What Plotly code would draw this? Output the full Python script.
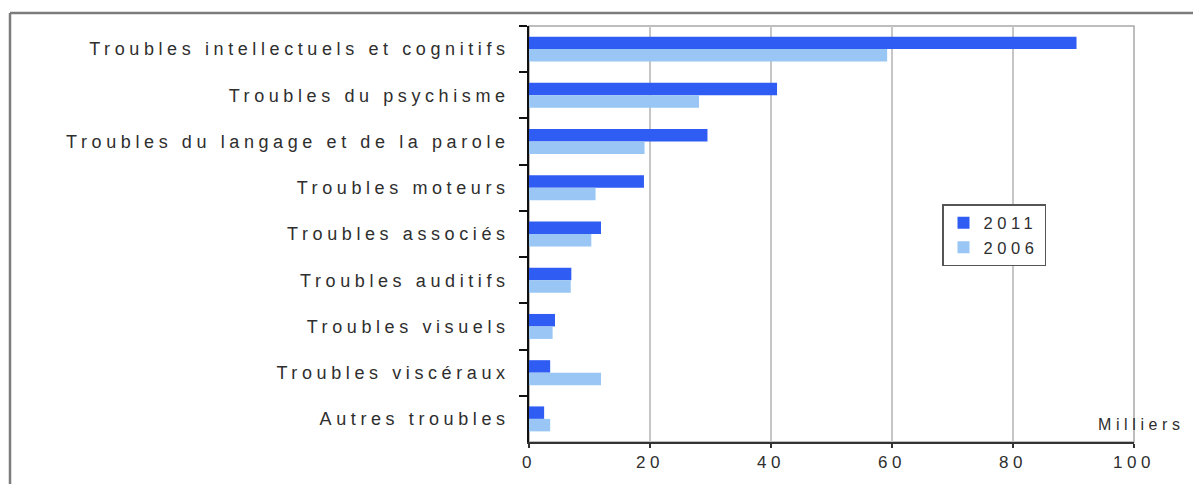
import plotly.graph_objects as go

# Categories, listed top to bottom
categories = [
    "Troubles intellectuels et cognitifs",
    "Troubles du psychisme",
    "Troubles du langage et de la parole",
    "Troubles moteurs",
    "Troubles associés",
    "Troubles auditifs",
    "Troubles visuels",
    "Troubles viscéraux",
    "Autres troubles",
]

# Values in thousands
values_2011 = [90.5, 41.0, 29.5, 19.0, 11.9, 7.0, 4.3, 3.5, 2.5]
values_2006 = [59.2, 28.1, 19.1, 11.0, 10.3, 6.9, 3.9, 11.9, 3.5]

x_ticks = [0, 20, 40, 60, 80, 100]

COLOR_2011 = "#2F5CF2"
COLOR_2006 = "#99C6F4"
TEXT = "#2E2E2E"
FONT = "Liberation Sans, Arial, sans-serif"

fig = go.Figure()
fig.add_trace(go.Bar(name="2011", y=categories, x=values_2011, orientation="h",
                     marker=dict(color=COLOR_2011, line=dict(width=0))))
fig.add_trace(go.Bar(name="2006", y=categories, x=values_2006, orientation="h",
                     marker=dict(color=COLOR_2006, line=dict(width=0))))

# plot area in pixels: x 529..1134, y 26..442
W, H = 1193, 484
L, R, T, B = 529, 1134, 26, 442


def px(x):
    return (x - L) / (R - L)


def py(y):
    return (B - y) / (B - T)


fig.update_layout(
    width=W, height=H,
    margin=dict(l=L, r=W - R, t=T, b=H - B, autoexpand=False),
    paper_bgcolor="white", plot_bgcolor="white",
    barmode="group", bargap=0.46, bargroupgap=0.0,
    font=dict(family=FONT, size=18, color=TEXT),
    showlegend=True,
    legend=dict(
        x=px(942), y=py(204), xanchor="left", yanchor="top",
        bgcolor="white", bordercolor="#555555", borderwidth=1.5,
        font=dict(size=16.5, color=TEXT), traceorder="normal",
        itemwidth=30,
    ),
    xaxis=dict(
        range=[0, 100], tickvals=x_ticks, ticktext=[str(v) for v in x_ticks],
        showgrid=True, gridcolor="#C6C6C6", gridwidth=1.5,
        zeroline=False, showline=True, linecolor="#333333", linewidth=1.5,
        ticks="outside", ticklen=4, tickcolor="#333333", tickwidth=1.5,
        tickfont=dict(size=17, color=TEXT),
    ),
    yaxis=dict(
        type="category", categoryorder="array", categoryarray=categories,
        autorange="reversed",
        showgrid=False, zeroline=False,
        showline=True, linecolor="#111111", linewidth=1.5,
        ticks="outside", tickson="boundaries", ticklen=8,
        tickcolor="#111111", tickwidth=1.5,
        ticklabelstandoff=14,
        tickfont=dict(size=18, color=TEXT),
    ),
    shapes=[
        # plot area frame
        dict(type="rect", xref="paper", yref="paper", x0=0, x1=1, y0=0, y1=1,
             line=dict(color="#A8A8A8", width=1.5), layer="below"),
        # outer chart frame (left and top edges)
        dict(type="line", xref="paper", yref="paper",
             x0=px(10), x1=px(10), y0=py(H + 5), y1=py(13),
             line=dict(color="#7C7C7C", width=2.5)),
        dict(type="line", xref="paper", yref="paper",
             x0=px(10), x1=px(W + 5), y0=py(13), y1=py(13),
             line=dict(color="#7C7C7C", width=2.5)),
    ],
    annotations=[
        dict(text="Milliers", xref="paper", yref="paper",
             x=px(1141), y=py(424), xanchor="center", yanchor="middle",
             showarrow=False, font=dict(size=16, color=TEXT)),
    ],
)

# Widen the lettering, then redraw with a re-spelled font list so that text
# sizes (legend box included) are measured again with the new spacing.
post = """
var st = document.createElement('style');
st.textContent = 'svg text { letter-spacing: 4.6px; }';
document.head.appendChild(st);
var gd = document.getElementById('{plot_id}');
gd.layout.font.family = 'Liberation Sans, Arial';
Plotly.newPlot(gd, gd.data, gd.layout, {displayModeBar: false});
"""

fig.write_html("out.html", post_script=post, config={"displayModeBar": False})
